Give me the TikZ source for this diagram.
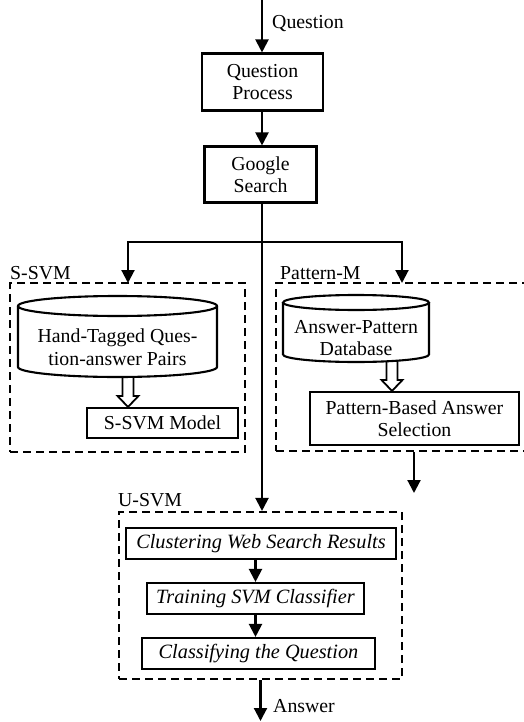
\documentclass[tikz,border=0pt]{standalone}
\usepackage{fontspec}
\setmainfont{Liberation Serif}
\usetikzlibrary{arrows.meta,calc}
\begin{document}
\begin{tikzpicture}[x=1pt,y=1pt,
  every node/.style={font=\fontsize{19.8}{22.5}\selectfont, inner sep=0pt},
  box/.style={draw, line width=2.1pt, align=center},
  grp/.style={draw, line width=2.1pt, dash pattern=on 8pt off 5pt},
  arr/.style={line width=2.1pt, -{Triangle[length=13pt,width=13pt]}},
  ln/.style={line width=2.1pt},
  hollow/.style={line width=1.8pt, line join=miter},
  lbl/.style={anchor=base west},
  itl/.style={font=\fontsize{20.3}{24}\selectfont\itshape}
]
\useasboundingbox (0,0) rectangle (524,-722);
\clip (0,0) rectangle (524,-722);

% main boxes
\node[box, minimum width=121, minimum height=57] (qp) at (262.5,-82) {Question\\Process};
\node[box, minimum width=112, minimum height=56] (gs) at (260.5,-174.5) {Google\\Search};

% groups
\node[grp, minimum width=235, minimum height=169] (ssvm) at (127.5,-367.5) {};
\node[grp, minimum width=264, minimum height=168] (patm) at (408,-367) {};
\node[grp, minimum width=283, minimum height=167] (usvm) at (260.5,-595.5) {};

% labels
\node[lbl] (ssvml) at (10,-279) {S-SVM};
\node[lbl] (patml) at (280,-279) {Pattern-M};
\node[lbl] (usvml) at (118,-506) {U-SVM};
\node[lbl] (ql) at (272,-29) {Question};
\node[lbl] (al) at (273,-712) {Answer};

% left cylinder
\node[align=center] (hcyl) at (117.5,-347) {Hand-Tagged Ques-\\tion-answer Pairs};
\draw[ln] (117.5,-306) ellipse (99.5 and 10);
\draw[ln] (18,-306) -- (18,-367) arc (180:360:99.5 and 10) -- (217,-306);

% right cylinder
\node[align=center] (apd) at (356,-338) {Answer-Pattern\\Database};
\draw[ln] (356,-302.5) ellipse (73 and 7.5);
\draw[ln] (283,-302.5) -- (283,-354.5) arc (180:360:73 and 7.5) -- (429,-302.5);

% inner boxes
\node[box, minimum width=151, minimum height=30] (model) at (162.5,-423) {S-SVM Model};
\node[box, minimum width=209, minimum height=53] (pbas) at (414.5,-418.5) {Pattern-Based Answer\\Selection};
\node[box, itl, minimum width=270, minimum height=31] (cl) at (261,-543.5) {Clustering Web Search Results};
\node[box, itl, minimum width=217, minimum height=31] (tr) at (255.5,-598.5) {Training SVM Classifier};
\node[box, itl, minimum width=233, minimum height=31] (cq) at (258.5,-653.5) {Classifying the Question};

% connectors
\coordinate (qin) at (262,0);
\draw[arr] (qin) -- (qin |- qp.north);
\draw[arr] (qp.south -| qin) -- (qin |- gs.north);
\coordinate (jn) at (262,-242);
\draw[ln] (gs.south -| jn) -- (jn);
\draw[arr] (jn) -- (jn |- usvm.north);
\coordinate (lt) at (128,-283);
\coordinate (rt) at (402,-283);
\draw[arr] (jn) -| (lt);
\draw[arr] (jn) -| (rt);
\coordinate (po) at (414,-493);
\draw[arr] (po |- patm.south) -- (po);
\coordinate (aout) at (260.5,-721);
\draw[arr] (usvm.south) -- (aout);
\draw[arr] (cl.south -| tr.north) -- (tr.north);
\draw[arr] (tr.south) -- (tr.south |- cq.north);

% hollow arrows
\coordinate (hb) at (128,-377);
\coordinate (ab) at (392,-361);
\draw[hollow] let \p1=(hb), \p2=(model.north) in
  (\x1-5.5pt,\y1) -- (\x1-5.5pt,\y2+11pt) -- (\x1-10.5pt,\y2+11pt) -- (\x1,\y2)
  -- (\x1+10.5pt,\y2+11pt) -- (\x1+5.5pt,\y2+11pt) -- (\x1+5.5pt,\y1);
\draw[hollow] let \p1=(ab), \p2=(pbas.north) in
  (\x1-5.5pt,\y1) -- (\x1-5.5pt,\y2+11pt) -- (\x1-10.5pt,\y2+11pt) -- (\x1,\y2)
  -- (\x1+10.5pt,\y2+11pt) -- (\x1+5.5pt,\y2+11pt) -- (\x1+5.5pt,\y1);
\end{tikzpicture}
\end{document}
